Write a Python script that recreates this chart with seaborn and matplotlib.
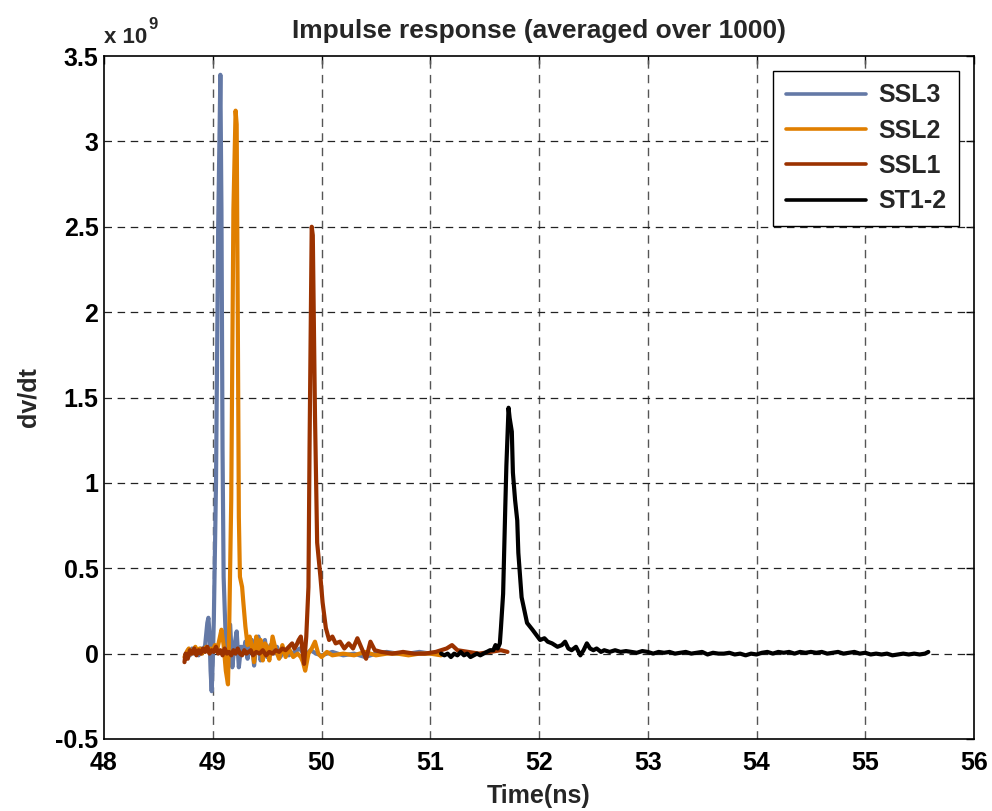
import numpy as np
import pandas as pd
import matplotlib
matplotlib.use("Agg")
import matplotlib.pyplot as plt
import seaborn as sns

# ---- measured traces (time in ns, dv/dt in units of 1e9) ----
ssl3_t = [48.77, 48.79, 48.81, 48.83, 48.85, 48.87, 48.89, 48.91, 48.93, 48.95,
          48.96, 48.97, 48.98, 48.99, 49.00, 49.01, 49.03, 49.05, 49.07, 49.08,
          49.09, 49.10, 49.11, 49.12, 49.13, 49.14, 49.16, 49.18, 49.20, 49.22,
          49.24, 49.26, 49.28, 49.30, 49.32, 49.34, 49.36, 49.38, 49.40, 49.42,
          49.44, 49.46, 49.48, 49.50, 49.53, 49.56, 49.59, 49.62, 49.66, 49.70,
          49.75, 49.80, 49.85, 49.90, 49.95, 50.00, 50.10, 50.20, 50.30, 50.40,
          50.50, 50.60, 50.70, 50.80, 50.90, 51.00]
ssl3_v = [0.02, -0.01, 0.03, 0.00, 0.02, -0.01, 0.03, 0.01, 0.05, 0.18,
          0.21, 0.12, -0.10, -0.22, -0.05, 0.20, 1.00, 2.50, 3.39, 2.60,
          1.20, 0.45, 0.26, 0.08, 0.02, -0.06, 0.17, -0.08, 0.05, 0.13,
          -0.08, 0.04, 0.00, 0.07, -0.03, 0.06, 0.08, -0.07, 0.05, 0.10,
          -0.04, 0.06, 0.08, -0.02, 0.05, 0.00, 0.04, -0.02, 0.02, -0.01,
          0.01, 0.03, -0.01, 0.02, 0.00, -0.01, 0.01, -0.01, 0.00, -0.02,
          0.00, 0.01, 0.00, 0.00, 0.01, 0.00]

ssl2_t = [48.74, 48.76, 48.78, 48.80, 48.82, 48.84, 48.86, 48.88, 48.90, 48.92,
          48.94, 48.96, 48.98, 49.00, 49.02, 49.04, 49.06, 49.08, 49.10, 49.12,
          49.14, 49.15, 49.17, 49.19, 49.21, 49.22, 49.23, 49.24, 49.25, 49.27,
          49.28, 49.30, 49.32, 49.34, 49.36, 49.38, 49.40, 49.42, 49.44, 49.46,
          49.48, 49.50, 49.52, 49.55, 49.58, 49.61, 49.64, 49.67, 49.70, 49.74,
          49.78, 49.81, 49.83, 49.85, 49.88, 49.91, 49.94, 49.97, 50.00, 50.05,
          50.10, 50.20, 50.30, 50.40, 50.50, 50.60, 50.70, 50.80, 50.90, 51.00,
          51.10]
ssl2_v = [-0.02, 0.01, 0.03, 0.00, 0.02, 0.04, 0.01, 0.03, 0.00, 0.02,
          0.04, 0.01, 0.03, 0.02, 0.05, 0.02, 0.08, 0.14, 0.05, -0.10,
          -0.18, 0.10, 0.90, 2.60, 3.18, 3.10, 2.00, 0.80, 0.45, 0.39,
          0.31, 0.16, 0.05, 0.10, 0.04, -0.05, 0.10, 0.02, 0.08, -0.04,
          0.06, 0.04, -0.04, 0.10, 0.02, -0.03, 0.05, -0.02, 0.03, -0.02,
          0.00, -0.02, -0.05, -0.10, 0.00, 0.03, 0.07, 0.00, -0.02, 0.01,
          -0.01, 0.00, -0.01, 0.01, -0.01, 0.00, 0.00, -0.01, 0.00, 0.00,
          -0.01]

ssl1_t = [48.74, 48.75, 48.77, 48.79, 48.81, 48.83, 48.85, 48.87, 48.89, 48.91,
          48.93, 48.95, 48.97, 48.99, 49.01, 49.03, 49.05, 49.07, 49.09, 49.11,
          49.13, 49.15, 49.17, 49.19, 49.21, 49.23, 49.25, 49.27, 49.29, 49.31,
          49.33, 49.35, 49.37, 49.40, 49.43, 49.46, 49.49, 49.52, 49.55, 49.58,
          49.61, 49.64, 49.67, 49.70, 49.73, 49.75, 49.77, 49.79, 49.81, 49.84,
          49.86, 49.88, 49.89, 49.91, 49.92, 49.94, 49.96, 49.99, 50.01, 50.04,
          50.07, 50.10, 50.13, 50.17, 50.21, 50.25, 50.29, 50.33, 50.37, 50.41,
          50.45, 50.49, 50.55, 50.65, 50.75, 50.85, 50.95, 51.05, 51.15, 51.20,
          51.25, 51.35, 51.45, 51.55, 51.65, 51.71]
ssl1_v = [-0.05, 0.00, -0.03, 0.02, 0.00, 0.03, -0.01, 0.02, 0.00, 0.03,
          0.01, 0.04, 0.00, 0.02, 0.01, 0.04, 0.00, 0.02, -0.01, 0.03,
          0.00, 0.01, -0.01, 0.02, 0.00, 0.03, 0.00, -0.01, 0.02, 0.00,
          0.01, 0.02, -0.01, 0.01, 0.00, 0.02, -0.01, 0.01, 0.00, 0.02,
          0.01, 0.03, 0.02, 0.04, 0.06, 0.03, 0.05, 0.08, 0.10, -0.06,
          0.10, 0.39, 1.20, 2.50, 2.45, 1.40, 0.65, 0.45, 0.30, 0.15,
          0.08, 0.10, 0.06, 0.07, 0.03, 0.06, 0.03, 0.09, 0.03, -0.03,
          0.07, 0.02, 0.01, 0.00, 0.01, 0.00, 0.00, 0.01, 0.03, 0.05,
          0.02, 0.01, 0.00, 0.01, 0.02, 0.01]

st12_t = [51.10, 51.13, 51.16, 51.19, 51.22, 51.25, 51.28, 51.31, 51.34, 51.37,
          51.40, 51.43, 51.46, 51.49, 51.52, 51.55, 51.58, 51.60, 51.62, 51.64,
          51.65, 51.67, 51.69, 51.70, 51.72, 51.73, 51.75, 51.76, 51.78, 51.80,
          51.81, 51.84, 51.89, 51.94, 52.01, 52.05, 52.08, 52.12, 52.17, 52.21,
          52.24, 52.27, 52.30, 52.34, 52.38, 52.41, 52.44, 52.47, 52.50, 52.53,
          52.57, 52.60, 52.65, 52.70, 52.75, 52.80, 52.85, 52.90, 52.95, 53.00,
          53.05, 53.10, 53.15, 53.20, 53.25, 53.30, 53.35, 53.40, 53.45, 53.50,
          53.55, 53.60, 53.65, 53.70, 53.75, 53.80, 53.85, 53.90, 53.95, 54.00,
          54.05, 54.10, 54.15, 54.20, 54.25, 54.30, 54.35, 54.40, 54.45, 54.50,
          54.55, 54.60, 54.65, 54.70, 54.75, 54.80, 54.85, 54.90, 54.95, 55.00,
          55.05, 55.10, 55.15, 55.20, 55.25, 55.30, 55.35, 55.40, 55.45, 55.50,
          55.55, 55.58]
st12_v = [0.00, -0.01, 0.00, -0.02, 0.00, -0.01, 0.01, -0.01, 0.00, -0.02,
          -0.01, 0.00, -0.01, 0.00, 0.01, 0.02, 0.02, 0.05, 0.03, 0.06,
          0.15, 0.35, 0.86, 1.10, 1.44, 1.38, 1.30, 1.06, 0.90, 0.78,
          0.59, 0.33, 0.18, 0.14, 0.08, 0.09, 0.07, 0.06, 0.04, 0.05,
          0.07, 0.03, 0.02, 0.04, -0.01, 0.02, 0.06, 0.03, 0.02, 0.03,
          0.01, 0.02, 0.01, 0.02, 0.01, 0.015, 0.01, 0.005, 0.015, 0.01,
          0.00, 0.01, 0.005, 0.01, 0.00, 0.005, 0.01, 0.00, 0.005, 0.01,
          -0.005, 0.005, 0.00, 0.00, 0.005, -0.005, 0.00, -0.01, 0.00, -0.005,
          0.005, 0.01, 0.00, 0.01, 0.005, 0.01, 0.00, 0.01, 0.005, 0.01,
          0.005, 0.01, 0.00, 0.005, 0.01, 0.00, 0.005, 0.01, 0.00, 0.005,
          -0.005, 0.00, -0.005, 0.00, -0.01, -0.005, 0.00, -0.005, 0.00, -0.005,
          0.00, 0.01]

series_names = ["SSL3", "SSL2", "SSL1", "ST1-2"]
series_colors = ["#6479A6", "#E07F00", "#9B3200", "#000000"]
x_ticks = [48, 49, 50, 51, 52, 53, 54, 55, 56]
y_ticks = [-0.5, 0, 0.5, 1, 1.5, 2, 2.5, 3, 3.5]
y_tick_labels = ["-0.5", "0", "0.5", "1", "1.5", "2", "2.5", "3", "3.5"]

frames = []
for name, t, v in zip(series_names,
                      [ssl3_t, ssl2_t, ssl1_t, st12_t],
                      [ssl3_v, ssl2_v, ssl1_v, st12_v]):
    frames.append(pd.DataFrame({"t": t, "v": v, "series": name}))
df = pd.concat(frames, ignore_index=True)

sns.set_style("white")
plt.rcParams["font.family"] = ["Liberation Sans", "DejaVu Sans"]
plt.rcParams["font.weight"] = "bold"

fig = plt.figure(figsize=(9.92, 8.11), dpi=100)
ax = fig.add_axes([104 / 992, 1 - 739 / 811, 870 / 992, 683 / 811])

for i, (name, color) in enumerate(zip(series_names, series_colors)):
    sns.lineplot(data=df[df["series"] == name], x="t", y="v", color=color,
                 linewidth=3.0, sort=False, estimator=None, label=name,
                 ax=ax, zorder=3 + i)

ax.set_xlim(48, 56)
ax.set_ylim(-0.5, 3.5)
ax.set_xticks(x_ticks)
ax.set_yticks(y_ticks)
ax.set_xticklabels([str(v) for v in x_ticks])
ax.set_yticklabels(y_tick_labels)

ax.grid(False)
for xv in x_ticks[1:-1]:
    ax.axvline(xv, color="#555555", linewidth=1.0, linestyle=(0, (6, 4.5)), zorder=1)
for yv in y_ticks[1:-1]:
    ax.axhline(yv, color="#222222", linewidth=0.9, linestyle=(0, (6, 4.5)), zorder=1)

ax.tick_params(axis="both", direction="in", length=6, width=1,
               top=True, right=True, labelsize=18, colors="black")
ax.tick_params(axis="x", pad=9)
ax.tick_params(axis="y", pad=4)
for lab in ax.get_xticklabels() + ax.get_yticklabels():
    lab.set_fontweight("bold")
for sp in ax.spines.values():
    sp.set_visible(True)
    sp.set_color("black")
    sp.set_linewidth(1.2)

ax.set_title("Impulse response (averaged over 1000)", fontsize=19,
             fontweight="bold", pad=13)
ax.set_xlabel("Time(ns)", fontsize=18, fontweight="bold", labelpad=6)
ax.set_ylabel("dv/dt", fontsize=18, fontweight="bold", labelpad=11)

# scale factor shown above the y axis
fig.text(104 / 992, 1 - 43 / 811, "x 10", fontsize=16, fontweight="bold",
         ha="left", va="baseline")
fig.text(148 / 992, 1 - 29 / 811, "9", fontsize=12, fontweight="bold",
         ha="left", va="baseline")

handles, labels = ax.get_legend_handles_labels()
leg = ax.legend(handles, labels, loc="upper right", fontsize=18,
                frameon=True, fancybox=False, edgecolor="black",
                framealpha=1, handlelength=3.2, handletextpad=0.5,
                labelspacing=0.45, borderpad=0.5, borderaxespad=0.6)
leg.get_frame().set_linewidth(1.0)
for txt in leg.get_texts():
    txt.set_fontweight("bold")
for line in leg.get_lines():
    line.set_linewidth(2.6)

fig.savefig("out.png", dpi=100)
